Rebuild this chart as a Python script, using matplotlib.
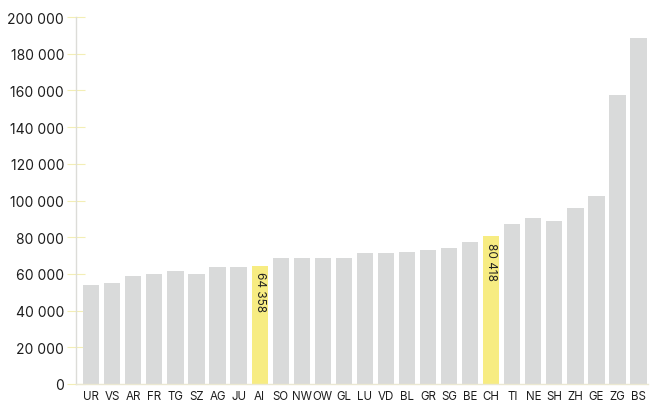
import matplotlib
matplotlib.use("Agg")
import matplotlib.pyplot as plt

# ---------------------------------------------------------------
# Data
# ---------------------------------------------------------------
cantons = ["UR", "VS", "AR", "FR", "TG", "SZ", "AG", "JU", "AI", "SO",
           "NW", "OW", "GL", "LU", "VD", "BL", "GR", "SG", "BE", "CH",
           "TI", "NE", "SH", "ZH", "GE", "ZG", "BS"]

values = [53700, 55300, 58600, 60200, 61800, 60200, 63500, 63500, 64358, 68400,
          68400, 68900, 68900, 71600, 71600, 72200, 73200, 74300, 77600, 80418,
          87300, 90600, 89000, 96000, 102500, 157300, 188300]

highlight = ["AI", "CH"]

y_ticks = [0, 20000, 40000, 60000, 80000, 100000, 120000, 140000,
           160000, 180000, 200000]

# ---------------------------------------------------------------
# Styling
# ---------------------------------------------------------------
plt.rcParams["font.family"] = ["Inter", "DejaVu Sans"]

GRAY = "#d9dada"
YELLOW = "#f7ec82"


def fmt(v):
    return f"{v:,}".replace(",", " ")


fig = plt.figure(figsize=(6.5, 4.02), dpi=100)
ax = fig.add_axes([0.117, 0.0423, 0.880, 0.9129])

x = list(range(len(cantons)))
colors = [YELLOW if c in highlight else GRAY for c in cantons]
ax.bar(x, values, width=0.77, color=colors, zorder=2)

# labels inside the highlighted bars
for i, c in enumerate(cantons):
    if c in highlight:
        ax.text(i, values[i] - 3000, fmt(values[i]), rotation=-90,
                ha="center", va="top", fontsize=8.5, color="#222222")

ax.set_xlim(-0.72, 26.45)
ax.set_ylim(0, 200000)

ax.set_yticks(y_ticks)
ax.set_yticklabels([fmt(v) for v in y_ticks], fontsize=10, color="#1e1e1e")
ax.set_xticks(x)
ax.set_xticklabels(cantons, fontsize=8.3, color="#1e1e1e")

ax.tick_params(axis="y", direction="inout", length=13, width=0.8,
               color="#f3eeb5", pad=2)
ax.tick_params(axis="x", length=0, pad=4)

for side in ["top", "right"]:
    ax.spines[side].set_visible(False)
ax.spines["left"].set_color("#dcdcd8")
ax.spines["left"].set_linewidth(1)
ax.spines["bottom"].set_color("#ebe8d2")
ax.spines["bottom"].set_linewidth(1)

fig.savefig("out.png", dpi=100)
